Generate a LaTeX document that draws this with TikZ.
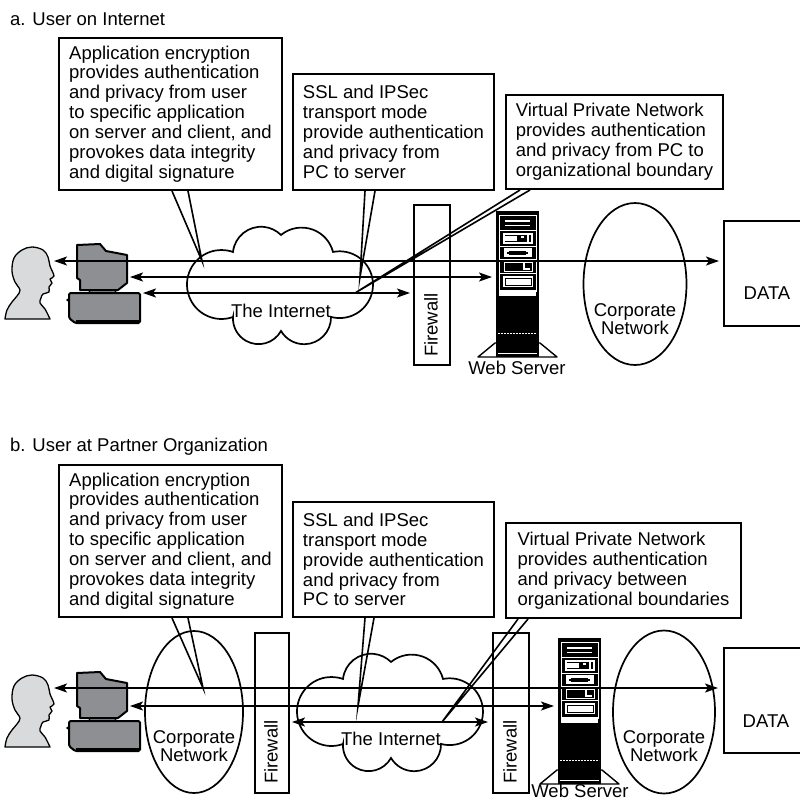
\documentclass[tikz,border=0pt]{standalone}
\usepackage{fontspec}
\setmainfont{Liberation Sans}
\usetikzlibrary{arrows.meta,shapes.geometric}

\definecolor{pcgrey}{HTML}{8E8F93}
\definecolor{headgrey}{HTML}{D9DADC}

\tikzset{
  txt/.style={font=\fontsize{18.5}{19.9}\selectfont, inner sep=0pt},
  callout/.style={txt, draw, line width=2pt, fill=white, anchor=north west,
    align=left, inner xsep=9pt, inner ysep=0pt},
  tail/.style={line width=1.6pt, miter limit=25},
  wall/.style={draw, line width=2pt, inner sep=0pt, anchor=north west},
  lan/.style={draw, ellipse, line width=1.7pt, inner sep=0pt},
  databox/.style={draw, line width=2pt, inner sep=0pt, anchor=north west},
  flow/.style={line width=1.8pt,
    {Stealth[length=13pt,width=9pt,inset=3pt]}-{Stealth[length=13pt,width=9pt,inset=3pt]}},
  cloudline/.style={line width=1.7pt},
  % rack-mounted web server, origin at the top left corner of the cabinet
  webserver/.pic={
    \filldraw[fill=white, draw=black, line width=1.4pt, line join=round]
      (-18,-146) -- (-1,-132) -- (44,-132) -- (61,-146) -- cycle;
    \fill[black] (0,0) rectangle (43,-146);
    \draw[white, line width=0.7pt] (3,-4) rectangle (40,-80);
    \fill[white] (3,-79) rectangle (40,-85);
    \draw[white, line width=0.6pt] (3,-19) -- (40,-19) (3,-35) -- (40,-35)
      (3,-48) -- (40,-48) (3,-62) -- (40,-62);
    \draw[white, line width=1.4pt] (9,-10) -- (34,-10) (9,-14.5) -- (34,-14.5);
    \draw[white, line width=1.2pt] (8,-23) rectangle (36,-32);
    \fill[white] (9,-25) rectangle (21,-30);
    \draw[white, line width=1.2pt] (25,-26) -- (28,-26) (32,-23) -- (32,-32);
    \fill[white] (8,-37) rectangle (36,-46);
    \fill[black] (13,-39.5) rectangle (30,-43.5);
    \fill[black] (11,-40.5) rectangle (32,-42.5);
    \draw[white, line width=0.6pt] (8,-51) rectangle (36,-60);
    \draw[white, line width=1.6pt] (28,-52) -- (28,-58) -- (34,-58);
    \fill[white] (7,-65) rectangle (37,-76);
    \draw[black, line width=0.6pt] (9,-67) rectangle (35,-74);
    \draw[white, line width=0.8pt, dash pattern=on 2pt off 1pt] (2,-122) -- (41,-122);
    \draw[white, line width=0.8pt] (2,-142) -- (41,-142);
  },
  % head-and-shoulders silhouette facing right
  user/.pic={
    \filldraw[fill=headgrey, line width=1.3pt, line join=round]
      plot[smooth, tension=0.6] coordinates {(5,-89) (7,-80) (12,-72) (17,-66)
        (20,-60) (15,-52) (12,-41) (14,-28) (22,-20) (32,-17) (43,-20) (48,-27)
        (50,-36) (54,-46) (50,-49) (52,-53) (49,-57) (49,-62) (43,-64) (41,-68)
        (40,-73) (45,-79) (50,-89)} -- cycle;
  },
  % desktop computer: monitor on a flat system unit
  pc/.pic={
    \filldraw[fill=pcgrey, line width=1.2pt] (88,-59) -- (117,-59) -- (114,-64) -- (91,-64) -- cycle;
    \filldraw[fill=pcgrey, line width=2pt, line join=round]
      (77,-15) -- (100,-14) -- (106,-21) -- (127,-25) -- (127,-53) -- (118,-60)
      -- (80,-60) -- (80,-50) -- (77,-48) -- cycle;
    \filldraw[fill=pcgrey, line width=2pt, rounded corners=1.5pt]
      (69,-63) -- (140,-63) -- (140,-93) -- (75,-93) -- (69,-88) -- cycle;
    \fill[black] (76,-89.5) rectangle (140,-93);
    \fill (67.5,-70) circle (1.3);
  }
}

% Internet cloud outline: six puffs, centred on the given point
\newcommand\inetcloud[1]{%
  \draw[cloudline, shift={#1}] (-48,-32)
    arc[start angle=-70.5, end angle=-289.5, radius=34.5]
    arc[start angle=173.8, end angle=45.2, radius=28.26]
    arc[start angle=129.4, end angle=14.4, radius=32.43]
    arc[start angle=101.4, end angle=-104.9, radius=33.39]
    arc[start angle=0.85, end angle=-149.6, radius=26.85]
    arc[start angle=-29.0, end angle=-183.6, radius=25.625] -- cycle;}

\begin{document}
\begin{tikzpicture}[x=1pt, y=1pt]
\useasboundingbox (0,0) rectangle (800,-801);

% ---------------- a. User on Internet ----------------
\node[txt, anchor=base west] (titleA) at (10,-25) {a. User on Internet};

\inetcloud{(281,-285)}
\node[txt, anchor=base] (netA) at (281,-317) {The Internet};

\node[wall, minimum width=36pt, minimum height=160pt] (fwA) at (413,-204) {};
\node[txt, rotate=90] (fwAl) at (431,-325) {Firewall};

\pic at (496,-211) {webserver};
\node[txt, anchor=base] (wsA) at (517,-374) {Web Server};

\node[lan, minimum width=103pt, minimum height=162pt] (lanA) at (635,-284) {};
\node[txt, align=center, anchor=north, font=\fontsize{18.5}{18}\selectfont] (lanAl) at (635,-303) {Corporate\\Network};

\node[databox, minimum width=84pt, minimum height=105pt] (dataA) at (723,-220) {};
\node[txt, anchor=base] (dataAl) at (767,-299) {DATA};

\pic at (0,-230) {user};
\pic at (0,-230) {pc};

\node[callout, minimum width=223pt, minimum height=152pt] (appA) at (58,-37)
  {Application encryption\\provides authentication\\and privacy from user\\to specific application\\on server and client, and\\provokes data integrity\\and digital signature};
\node[callout, minimum width=201pt, minimum height=116pt] (sslA) at (292,-73)
  {SSL and IPSec\\transport mode\\provide authentication\\and privacy from\\PC to server};
\node[callout, minimum width=217pt, minimum height=94pt] (vpnA) at (505,-94)
  {Virtual Private Network\\provides authentication\\and privacy from PC to\\organizational boundary};

\coordinate (tipA1) at (202,-261);
\coordinate (tipA2) at (360,-277);
\coordinate (tipA3) at (355,-293);
\draw[tail] ([xshift=114pt]appA.south west) -- (tipA1) -- ([xshift=130pt]appA.south west);
\draw[tail] ([xshift=73pt]sslA.south west) -- (tipA2) -- ([xshift=83pt]sslA.south west);
\draw[tail] ([xshift=15pt]vpnA.south west) -- (tipA3) -- ([xshift=25pt]vpnA.south west);

\coordinate (a1w) at (54,-261);  \coordinate (a1e) at (719,-261);
\coordinate (a2w) at (130,-277); \coordinate (a2e) at (492,-277);
\coordinate (a3w) at (143,-293); \coordinate (a3e) at (410,-293);
\draw[flow] (a1w) -- (a1e);
\draw[flow] (a2w) -- (a2e);
\draw[flow] (a3w) -- (a3e);

% ---------------- b. User at Partner Organization ----------------
\node[txt, anchor=base west] (titleB) at (10,-451) {b. User at Partner Organization};

\node[lan, minimum width=98pt, minimum height=162pt] (lanB1) at (194,-712) {};
\node[txt, align=center, anchor=north, font=\fontsize{18.5}{18}\selectfont] (lanB1l) at (194,-730) {Corporate\\Network};

\node[wall, minimum width=34pt, minimum height=160pt] (fwB1) at (254,-632) {};
\node[txt, rotate=90] (fwB1l) at (271,-752) {Firewall};

\inetcloud{(391,-712)}
\node[txt, anchor=base] (netB) at (391,-745) {The Internet};

\node[wall, minimum width=36pt, minimum height=160pt] (fwB2) at (492,-632) {};
\node[txt, rotate=90] (fwB2l) at (510,-752) {Firewall};

\pic at (558,-638) {webserver};
\node[txt, anchor=base] (wsB) at (580,-797.5) {Web Server};

\node[lan, minimum width=102pt, minimum height=163pt] (lanB2) at (664,-712) {};
\node[txt, align=center, anchor=north, font=\fontsize{18.5}{18}\selectfont] (lanB2l) at (664,-730) {Corporate\\Network};

\node[databox, minimum width=84pt, minimum height=105pt] (dataB) at (723,-647) {};
\node[txt, anchor=base] (dataBl) at (766,-727) {DATA};

\pic at (0,-658) {user};
\pic at (0,-658) {pc};

\node[callout, minimum width=223pt, minimum height=152pt] (appB) at (58,-464)
  {Application encryption\\provides authentication\\and privacy from user\\to specific application\\on server and client, and\\provokes data integrity\\and digital signature};
\node[callout, minimum width=201pt, minimum height=115pt] (sslB) at (292,-501)
  {SSL and IPSec\\transport mode\\provide authentication\\and privacy from\\PC to server};
\node[callout, minimum width=235pt, minimum height=95pt] (vpnB) at (505,-522)
  {Virtual Private Network\\provides authentication\\and privacy between\\organizational boundaries};

\coordinate (tipB1) at (203,-688);
\coordinate (tipB2) at (358,-706);
\coordinate (tipB3) at (442,-722);
\draw[tail] ([xshift=114pt]appB.south west) -- (tipB1) -- ([xshift=130pt]appB.south west);
\draw[tail] ([xshift=73pt]sslB.south west) -- (tipB2) -- ([xshift=82pt]sslB.south west);
\draw[tail] ([xshift=13pt]vpnB.south west) -- (tipB3) -- ([xshift=23pt]vpnB.south west);

\coordinate (b1w) at (54,-688);  \coordinate (b1e) at (718,-688);
\coordinate (b2w) at (130,-706); \coordinate (b2e) at (554,-706);
\coordinate (b3w) at (292,-722); \coordinate (b3e) at (488,-722);
\draw[flow] (b1w) -- (b1e);
\draw[flow] (b2w) -- (b2e);
\draw[flow] (b3w) -- (b3e);
\end{tikzpicture}
\end{document}
